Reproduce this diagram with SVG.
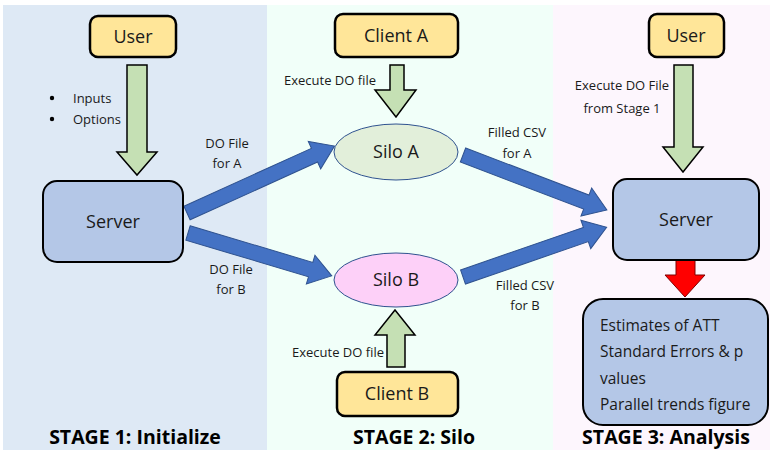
<svg xmlns="http://www.w3.org/2000/svg" width="770" height="450" viewBox="0 0 770 450">
<defs>
<style>
text{font-family:"Open Sans","Liberation Sans",sans-serif;fill:#1a1a1a}
.lbl{font-size:13px}
.node{font-size:18px}
.stage{font-size:19.5px;font-weight:bold;fill:#000}
.res{font-size:15.5px}
.yel{fill:#ffe699;stroke:#000;stroke-width:2.5}
.srv{fill:#b4c7e7;stroke:#000;stroke-width:2}
.grn{fill:#c5e0b4;stroke:#000;stroke-width:1.5}
.blu{fill:#4472c4;stroke:#2f528f;stroke-width:1}
</style>
</defs>
<rect x="0" y="0" width="770" height="450" fill="#ffffff"/>
<rect x="3" y="5" width="264" height="445" fill="#dee9f5"/>
<rect x="267" y="5" width="286" height="445" fill="#f1fff9"/>
<rect x="553" y="5" width="217" height="445" fill="#fdf6fd"/>

<g id="connectors">
<path class="grn" d="M127,65 H147 V152 H157 L137,175 L117,152 H127 Z"/>
<path class="grn" d="M390,65 H404 V90 H416 L396,117 L375,90 H390 Z"/>
<path class="grn" d="M387,367 H405 V335 H415 L395,310 L375,335 H387 Z"/>
<path class="grn" d="M674,65 H693 V147 H703 L683,172 L663,147 H674 Z"/>
<path d="M676,260 H695 V275 H705 L685,297 L665,275 H676 Z" fill="#ff0000" stroke="#7f0000" stroke-width="1"/>
<g transform="translate(187,213) rotate(-24.4)"><path class="blu" d="M0,-7.5 H140 V-15 L162,0 L140,15 V7.5 H0 Z"/></g>
<g transform="translate(188,233) rotate(16.6)"><path class="blu" d="M0,-7.5 H128 V-15 L150,0 L128,15 V7.5 H0 Z"/></g>
<g transform="translate(463,155) rotate(20.9)"><path class="blu" d="M0,-7.5 H132 V-15 L154,0 L132,15 V7.5 H0 Z"/></g>
<g transform="translate(463,277) rotate(-19.1)"><path class="blu" d="M0,-7.5 H130 V-15 L152,0 L130,15 V7.5 H0 Z"/></g>
<circle cx="52" cy="98" r="2.2" fill="#000"/>
<circle cx="52" cy="119" r="2.2" fill="#000"/>
<text class="lbl" x="73" y="103">Inputs</text>
<text class="lbl" x="73" y="124">Options</text>
<text class="lbl" x="227" y="148" text-anchor="middle">DO File</text>
<text class="lbl" x="227" y="168" text-anchor="middle">for A</text>
<text class="lbl" x="231" y="274" text-anchor="middle">DO File</text>
<text class="lbl" x="231" y="294" text-anchor="middle">for B</text>
<text class="lbl" x="330" y="85" text-anchor="middle">Execute DO file</text>
<text class="lbl" x="338" y="357" text-anchor="middle">Execute DO file</text>
<text class="lbl" x="517" y="137" text-anchor="middle">Filled CSV</text>
<text class="lbl" x="517" y="158" text-anchor="middle">for A</text>
<text class="lbl" x="525" y="290" text-anchor="middle">Filled CSV</text>
<text class="lbl" x="525" y="310" text-anchor="middle">for B</text>
<text class="lbl" x="622" y="90" text-anchor="middle">Execute DO File</text>
<text class="lbl" x="622" y="113" text-anchor="middle">from Stage 1</text>
</g>

<g id="user1"><rect class="yel" x="90" y="16" width="86" height="41" rx="8"/><text class="node" x="133" y="43" text-anchor="middle">User</text></g>
<g id="server1"><rect class="srv" x="43" y="181" width="140" height="81" rx="14"/><text class="node" x="113" y="228" text-anchor="middle">Server</text></g>
<g id="clientA"><rect class="yel" x="335" y="14" width="123" height="43" rx="8"/><text class="node" x="396" y="42" text-anchor="middle">Client A</text></g>
<g id="siloA"><ellipse cx="396" cy="152" rx="62" ry="28" fill="#e2efda" stroke="#2f528f" stroke-width="1"/><text class="node" x="396" y="158" text-anchor="middle">Silo A</text></g>
<g id="siloB"><ellipse cx="396" cy="280" rx="62" ry="27" fill="#fdd0f8" stroke="#2f528f" stroke-width="1"/><text class="node" x="396" y="286" text-anchor="middle">Silo B</text></g>
<g id="clientB"><rect class="yel" x="337" y="372" width="121" height="44" rx="8"/><text class="node" x="397" y="400" text-anchor="middle">Client B</text></g>
<g id="user3"><rect class="yel" x="649" y="14" width="75" height="43" rx="8"/><text class="node" x="686" y="42" text-anchor="middle">User</text></g>
<g id="server3"><rect class="srv" x="613" y="179" width="146" height="81" rx="14"/><text class="node" x="686" y="226" text-anchor="middle">Server</text></g>
<g id="results"><rect class="srv" x="583" y="299" width="185" height="126" rx="20"/>
<text class="res" x="600" y="331">Estimates of ATT</text>
<text class="res" x="600" y="357">Standard Errors &amp; p</text>
<text class="res" x="600" y="384">values</text>
<text class="res" x="600" y="410">Parallel trends figure</text></g>

<g id="stages">
<text class="stage" x="135" y="444" text-anchor="middle">STAGE 1: Initialize</text>
<text class="stage" x="414" y="444" text-anchor="middle">STAGE 2: Silo</text>
<text class="stage" x="666" y="444" text-anchor="middle">STAGE 3: Analysis</text>
</g>
</svg>
